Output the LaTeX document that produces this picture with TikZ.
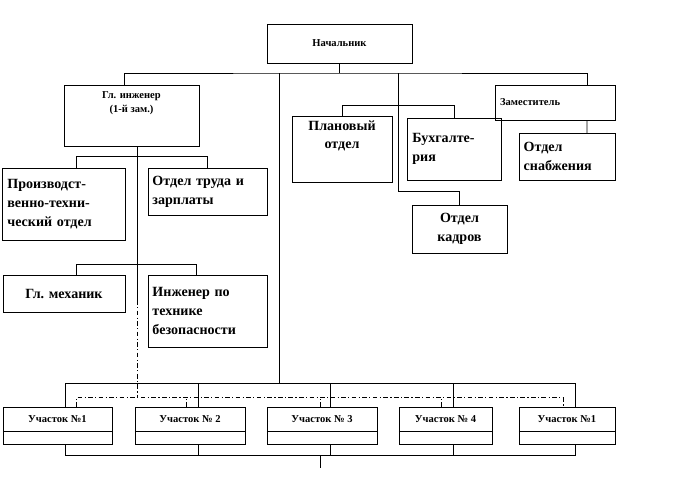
\documentclass[tikz,border=0pt]{standalone}
\usepackage{fontspec}
\setmainfont{Liberation Serif}
\usetikzlibrary{positioning, calc}
\tikzstyle{box} = [rectangle, draw, font=\fontsize{12}{16}\selectfont\bfseries, inner sep=4pt]
\tikzstyle{smallbox} = [rectangle, draw, font=\fontsize{9}{12}\selectfont\bfseries]
\tikzstyle{line} = [-, line width=0.6pt]
\tikzstyle{dashdot} = [-, line width=0.6pt, dash pattern=on 4pt off 2pt on 1pt off 2pt]

\begin{document}
\begin{tikzpicture}[x=0.03cm, y=-0.03cm]
        \useasboundingbox (0,0) rectangle (675,492);

        % Top level
        \node[smallbox, minimum width=4.35cm, minimum height=1.17cm] (chief) at (339.5,43.5) {Начальник};
        \node[smallbox, minimum width=4.05cm, minimum height=1.83cm, align=center] (eng) at (131.5,115.5) {Гл. инженер\\(1-й зам.)\\[4mm]};
        \node[smallbox, minimum width=3.6cm, minimum height=1.05cm, text width=3.3cm, align=left] (zam) at (555,102.5) {Заместитель};

        % Departments
        \node[box, minimum width=3.0cm, minimum height=1.86cm, align=center] (plan) at (342,149) {Плановый\\отдел\\[3mm]};
        \node[box, minimum width=2.82cm, minimum height=1.86cm, text width=2.5cm, align=left] (buh) at (454,149) {Бухгалте-\\рия\\[3mm]};
        \node[box, minimum width=2.88cm, minimum height=1.41cm, text width=2.6cm, align=left] (snab) at (567,156.5) {Отдел\\снабжения};
        \node[box, minimum width=2.85cm, minimum height=1.44cm, align=center] (kadr) at (459.5,229) {Отдел\\кадров};
        \node[box, minimum width=3.66cm, minimum height=2.16cm, text width=3.4cm, align=left] (pto) at (64,204) {Производст-\\венно-техни-\\ческий отдел};
        \node[box, minimum width=3.57cm, minimum height=1.41cm, text width=3.3cm, align=left] (trud) at (207.5,191.5) {Отдел труда и\\зарплаты};
        \node[box, minimum width=3.66cm, minimum height=1.11cm] (meh) at (64,293.5) {Гл. механик};
        \node[box, minimum width=3.57cm, minimum height=2.16cm, text width=3.3cm, align=left] (tb) at (207.5,311) {Инженер по\\технике\\безопасности};

        % Sections
        \foreach \i/\x/\w/\t in {1/57.5/3.27/{Участок №1}, 2/190/3.3/{Участок № 2}, 3/322/3.3/{Участок № 3}, 4/445.5/2.79/{Участок № 4}, 5/567/2.88/{Участок №1}} {
            \node[smallbox, minimum width=\w cm, minimum height=1.11cm, text depth=0.4cm] (u\i) at (\x,425.5) {\t};
            \draw[line] ($(u\i.south west)+(0,-13)$) -- ($(u\i.south east)+(0,-13)$);
        }

        % Top connections
        \draw[line] (chief.south) -- (339.5,73) coordinate (topbus);
        \draw[line] ([xshift=-.225cm]eng.north) |- (topbus) -| ([xshift=.96cm]zam.north);
        \draw[line] (279,73) -- (279,383) coordinate (midbus);
        \draw[line] (398,73) |- ($(kadr.north)+(0,-13)$) -- (kadr.north);
        \draw[line] (plan.north) -- ++(0,-10) -| (buh.north);
        \draw[line] ([xshift=.96cm]zam.south) -- ([xshift=.6cm]snab.north);

        % Chief engineer connections
        \draw[line] ([xshift=.36cm]pto.north) -- ++(0,-11) -| ([xshift=-.015cm]trud.north);
        \draw[line] ([xshift=.36cm]meh.north) -- ++(0,-10) -| ([xshift=-.345cm]tb.north);
        \draw[line] ([xshift=.165cm]eng.south) -- (137,300) coordinate (engend);
        \draw[dashdot] (engend) -- (137,398);

        % Section connections
        \draw[line] ([xshift=.25cm]u1.north) |- (midbus) -| ([xshift=.25cm]u5.north);
        \foreach \i in {2,3,4}
            \draw[line] ([xshift=.25cm]u\i.north) -- ++(0,-24);
        \draw[dashdot] ([xshift=.555cm]u1.north) |- ($(u5.north)+(-4,-9)$) -- ([xshift=-.12cm]u5.north);
        \foreach \i/\s in {2/-.12, 3/-.06, 4/-.135}
            \draw[dashdot] ([xshift=\s cm]u\i.north) -- ++(0,-9);
        \draw[line] ([xshift=.25cm]u1.south) |- (320,455) coordinate (botbus) -| ([xshift=.25cm]u5.south);
        \foreach \i in {2,3,4}
            \draw[line] ([xshift=.25cm]u\i.south) -- ++(0,11);
        \draw[line] (botbus) -- ++(0,13);
\end{tikzpicture}
\end{document}
